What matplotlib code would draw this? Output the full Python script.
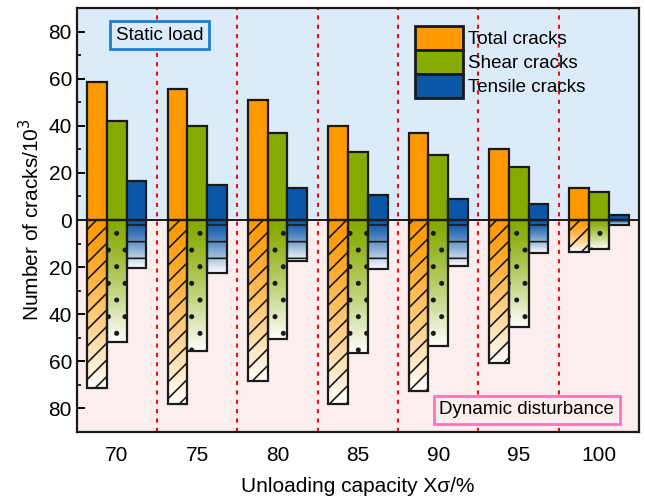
import numpy as np
import matplotlib.pyplot as plt
from matplotlib.colors import LinearSegmentedColormap
from matplotlib.patches import Patch

plt.rcParams['font.family'] = ['Liberation Sans', 'DejaVu Sans']
plt.rcParams['hatch.linewidth'] = 1.2

# unloading capacity groups
categories = ['70', '75', '80', '85', '90', '95', '100']

# static load (upper half), counts /10^3
static_total = [58.5, 55.5, 51, 40, 37, 30, 13.5]
static_shear = [42, 40, 37, 29, 27.5, 22.5, 12]
static_tensile = [16.5, 15, 13.5, 10.5, 9, 7, 2]

# dynamic disturbance (lower half), counts /10^3
dyn_total = [71.5, 78, 68.5, 78, 72.5, 60.5, 13.5]
dyn_shear = [52, 55.5, 50.5, 56.5, 53.5, 45.5, 12.5]
dyn_tensile = [20.5, 22.5, 17.5, 21, 19.5, 14, 2]

colors = ['#ff9900', '#85aa00', '#0a56a8']
hatches = ['//', '.', '-']
labels = ['Total cracks', 'Shear cracks', 'Tensile cracks']

fig = plt.figure(figsize=(6.45, 5), dpi=100)
ax = fig.add_axes([0.119, 0.136, 0.872, 0.848])

ax.axhspan(0, 90, color='#dcebf9', zorder=0)
ax.axhspan(-90, 0, color='#fdeeee', zorder=0)

x = np.arange(len(categories))
w = 0.245
offs = [-w, 0, w]

up = [static_total, static_shear, static_tensile]
down = [dyn_total, dyn_shear, dyn_tensile]

grad = np.linspace(0, 1, 256).reshape(-1, 1) ** 1.3
for k in range(3):
    ax.bar(x + offs[k], up[k], w, color=colors[k], edgecolor='#1a1a1a',
           linewidth=1.6, zorder=3)
    cmap = LinearSegmentedColormap.from_list('g%d' % k, [colors[k], 'white'])
    bars = ax.bar(x + offs[k], [-v for v in down[k]], w, facecolor='none',
                  edgecolor='#1a1a1a', linewidth=1.6, hatch=hatches[k], zorder=4)
    for b in bars:
        x0 = b.get_x()
        h = b.get_height()
        im = ax.imshow(grad, extent=(x0, x0 + w, h, 0), aspect='auto',
                       cmap=cmap, origin='upper', zorder=2)
        im.set_clip_path(b)

for xv in x[:-1] + 0.5:
    ax.axvline(xv, color='#ee1111', linestyle=(0, (2, 2.5)), linewidth=1.5, zorder=1)

ax.axhline(0, color='#1a1a1a', linewidth=1.4, zorder=5)

ax.set_xlim(-0.5, len(categories) - 0.5)
ax.set_ylim(-90, 90)
ax.set_xticks(x)
ax.set_xticklabels(categories)
ax.set_yticks(np.arange(-80, 81, 20))
ax.set_yticklabels([str(abs(v)) for v in range(-80, 81, 20)])
ax.set_yticks(np.arange(-90, 91, 10), minor=True)
ax.tick_params(axis='y', which='major', direction='in', length=6, width=1.4, labelsize=15)
ax.tick_params(axis='y', which='minor', direction='in', length=3, width=1.2)
ax.tick_params(axis='x', which='both', length=0, labelsize=15, pad=10)
for s in ax.spines.values():
    s.set_linewidth(1.6)
    s.set_color('#1a1a1a')
    s.set_zorder(6)

ax.set_xlabel('Unloading capacity X\u03c3/%', fontsize=15, labelpad=9)
ax.set_ylabel('Number of cracks/10$^3$', fontsize=15, labelpad=4)

handles = [Patch(facecolor=c, edgecolor='#1a1a1a', linewidth=2) for c in colors]
ax.legend(handles, labels, loc='upper left', bbox_to_anchor=(0.574, 0.993),
          frameon=False, fontsize=13.5, handlelength=2.6, handleheight=1.6,
          labelspacing=0.0, handletextpad=0.25, borderpad=0.3)

ax.text(0.147, 0.936, 'Static load', transform=ax.transAxes, fontsize=13.5,
        ha='center', va='center', zorder=7,
        bbox=dict(boxstyle='square,pad=0.3', facecolor='#dcebf9',
                  edgecolor='#1a7fd4', linewidth=2))
ax.text(0.80, 0.052, 'Dynamic disturbance', transform=ax.transAxes, fontsize=13.5,
        ha='center', va='center', zorder=7,
        bbox=dict(boxstyle='square,pad=0.3', facecolor='#fdeeee',
                  edgecolor='#ff77b8', linewidth=2))

fig.savefig('out.png', dpi=100)
